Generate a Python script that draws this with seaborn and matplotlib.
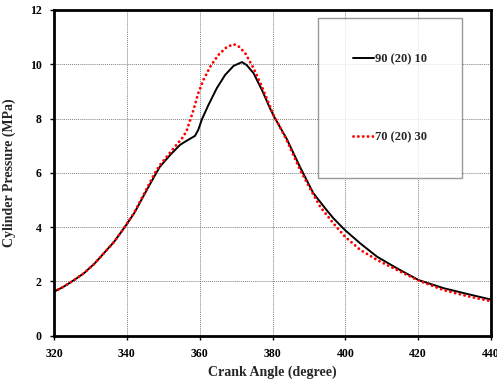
import matplotlib
matplotlib.use("Agg")
import matplotlib.pyplot as plt
import seaborn as sns
import pandas as pd

# crank angle (deg) and cylinder pressure (MPa)
angle_a = [320, 322.7, 325.5, 328.2, 331, 333.7, 336.5, 339.2, 342, 344.7, 347.5, 349.1,
           351.9, 354.6, 356.5, 358.7, 359.6, 360.6, 362.4, 364.7, 367, 369.3, 371.6,
           372.9, 374.8, 377.1, 379.3, 380.3, 383.9, 387.6, 391.2, 394.9, 396.7, 399.9,
           404.1, 408.7, 414.2, 420.1, 427, 433.4, 440]
press_a = [1.62, 1.81, 2.05, 2.30, 2.64, 3.04, 3.46, 3.96, 4.51, 5.18, 5.86, 6.23,
           6.66, 7.03, 7.19, 7.36, 7.58, 7.97, 8.50, 9.12, 9.61, 9.94, 10.08,
           9.97, 9.67, 9.05, 8.38, 8.1, 7.25, 6.2, 5.25, 4.62, 4.33, 3.89,
           3.40, 2.91, 2.48, 2.05, 1.75, 1.54, 1.33]

angle_b = [320, 322.7, 325.5, 328.2, 331, 333.7, 336.5, 339.2, 342, 344.7, 347.5, 349.1,
           352.8, 355.5, 356.5, 357.4, 358.3, 359.6, 361, 362.9, 365.1, 367.4, 369.3,
           370.6, 372.5, 374.8, 377.1, 379.3, 380.3, 383.9, 387.6, 391.2, 393.1, 396.7,
           399.9, 404.1, 408.7, 414.2, 420.1, 427, 433.4, 440]
press_b = [1.62, 1.81, 2.05, 2.30, 2.64, 3.04, 3.46, 3.96, 4.53, 5.22, 5.95, 6.29,
           6.90, 7.33, 7.58, 7.95, 8.32, 8.93, 9.42, 9.91, 10.34, 10.63, 10.74,
           10.67, 10.41, 9.85, 9.17, 8.45, 8.13, 7.2, 6.1, 5.2, 4.75, 4.14,
           3.65, 3.16, 2.79, 2.42, 2.03, 1.68, 1.46, 1.27]

labels = ["90 (20) 10", "70 (20) 30"]

sns.set_style("white")
plt.rcParams["font.family"] = ["Liberation Serif", "DejaVu Serif"]
plt.rcParams["font.weight"] = "bold"

fig = plt.figure(figsize=(4.97, 3.81), dpi=100)
ax = fig.add_axes([0.1087, 0.1189, 0.8793, 0.8549])

df_a = pd.DataFrame({"angle": angle_a, "p": press_a})
df_b = pd.DataFrame({"angle": angle_b, "p": press_b})

sns.lineplot(data=df_a, x="angle", y="p", ax=ax, color="black", linewidth=1.4,
             solid_joinstyle="round", label=labels[0])
sns.lineplot(data=df_b, x="angle", y="p", ax=ax, color="red", linewidth=2.1,
             linestyle=(0, (0.01, 1.65)), dash_capstyle="round", label=labels[1])

ax.set_xlim(320, 440)
ax.set_ylim(0, 12)
ax.set_xticks(range(320, 441, 20))
ax.set_yticks(range(0, 13, 2))
ax.grid(True, linestyle=(0, (1, 1)), color="#808080", linewidth=0.7)
ax.set_axisbelow(True)
for s in ax.spines.values():
    s.set_color("black")
    s.set_linewidth(2)
ax.tick_params(axis="both", direction="out", length=3, width=1, labelsize=8.5,
               pad=6, colors="black", bottom=True, left=True)
for t in ax.get_xticklabels() + ax.get_yticklabels():
    t.set_fontweight("bold")

ax.set_xlabel("Crank Angle (degree)", fontsize=10, fontweight="bold", labelpad=4)
ax.set_ylabel("Cylinder Pressure (MPa)", fontsize=10, fontweight="bold", labelpad=10)

leg = ax.legend(loc="upper right", bbox_to_anchor=(0.934, 0.975), fontsize=9,
                frameon=True, fancybox=False, borderpad=2.8, labelspacing=5.3,
                handlelength=1.7, handletextpad=0.1, borderaxespad=0)
leg.get_frame().set_edgecolor("#808080")
leg.get_frame().set_linewidth(1)
for t in leg.get_texts():
    t.set_fontweight("bold")

fig.savefig("out.png", dpi=100)
